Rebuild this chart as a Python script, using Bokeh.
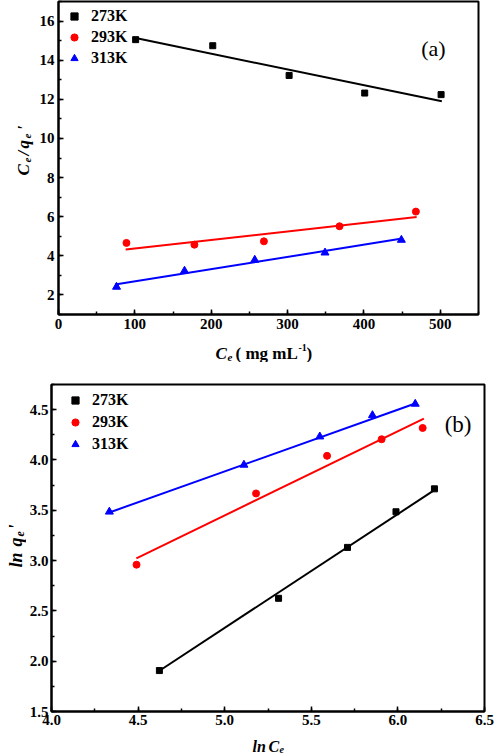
import numpy as np
from bokeh.plotting import figure
from bokeh.models import (Range1d, SingleIntervalTicker, PrintfTickFormatter,
                          Legend, LegendItem, Label)
from bokeh.layouts import column, row
from bokeh.embed import file_html
from bokeh.resources import INLINE

FONT = "Liberation Serif"

# ---------------- data: panel (a)  Ce/qe' vs Ce ----------------
series_labels = ["273K", "293K", "313K"]
series_colors = ["#000000", "#ff0000", "#0000ff"]
series_markers = ["square", "circle", "triangle"]

a_x_273 = [101, 202, 302, 401, 501]
a_y_273 = [15.05, 14.74, 13.22, 12.32, 12.24]
a_fitx_273 = [101, 502]
a_fity_273 = [15.13, 11.90]

a_x_293 = [89, 178, 269, 368, 468]
a_y_293 = [4.66, 4.57, 4.74, 5.51, 6.26]
a_fitx_293 = [88, 469]
a_fity_293 = [4.32, 5.98]

a_x_313 = [76, 165, 257, 349, 449]
a_y_313 = [2.41, 3.23, 3.79, 4.16, 4.81]
a_fitx_313 = [74, 450]
a_fity_313 = [2.53, 4.88]

# ---------------- data: panel (b)  ln qe' vs ln Ce ----------------
b_x_273 = [4.623, 5.311, 5.709, 5.989, 6.211]
b_y_273 = [1.907, 2.625, 3.131, 3.485, 3.713]
b_fitx_273 = [4.61, 6.21]
b_fity_273 = [1.89, 3.70]

b_x_293 = [4.491, 5.181, 5.591, 5.906, 6.143]
b_y_293 = [2.959, 3.667, 4.041, 4.206, 4.318]
b_fitx_293 = [4.49, 6.15]
b_fity_293 = [3.022, 4.411]

b_x_313 = [4.334, 5.111, 5.549, 5.853, 6.100]
b_y_313 = [3.485, 3.951, 4.232, 4.444, 4.557]
b_fitx_313 = [4.334, 6.104]
b_fity_313 = [3.478, 4.563]

marker_sizes = [6, 7, 8]


def style(p, xint, yint, fmt=None, standoff=4):
    p.outline_line_color = "black"
    p.outline_line_width = 2
    p.xgrid.visible = False
    p.ygrid.visible = False
    p.background_fill_color = "white"
    p.border_fill_color = "white"
    p.xaxis[0].ticker = SingleIntervalTicker(interval=xint, num_minor_ticks=2)
    p.yaxis[0].ticker = SingleIntervalTicker(interval=yint, num_minor_ticks=2)
    for ax in (p.xaxis[0], p.yaxis[0]):
        ax.axis_line_width = 2
        ax.axis_line_color = "black"
        ax.major_tick_in = 5
        ax.major_tick_out = 0
        ax.minor_tick_in = 3
        ax.minor_tick_out = 0
        ax.major_tick_line_width = 1.5
        ax.minor_tick_line_width = 1.5
        ax.major_tick_line_color = "black"
        ax.minor_tick_line_color = "black"
        ax.major_label_text_font = FONT
        ax.major_label_text_font_style = "bold"
        ax.major_label_text_font_size = "15px"
        ax.major_label_text_color = "black"
        ax.major_label_standoff = standoff
        if fmt:
            ax.formatter = PrintfTickFormatter(format=fmt)


def label_fig(w, h):
    f = figure(width=w, height=h, output_backend="svg", toolbar_location=None,
               x_range=Range1d(0, w), y_range=Range1d(0, h),
               x_axis_type=None, y_axis_type=None,
               min_border=0, min_border_left=0, min_border_right=0,
               min_border_top=0, min_border_bottom=0)
    f.outline_line_color = None
    f.background_fill_color = "white"
    f.border_fill_color = "white"
    return f


def add_runs(p, runs, x0, y0, angle=0.0):
    for text, size, fstyle, along, perp in runs:
        if angle == 0:
            x, y = x0 + along, y0 + perp
        else:
            x, y = x0 - perp, y0 + along
        p.add_layout(Label(x=x, y=y, x_units="screen", y_units="screen",
                           text=text, angle=angle, text_font=FONT,
                           text_font_size=f"{size}px", text_font_style=fstyle,
                           text_baseline="alphabetic", text_align="left",
                           text_color="black"))


def add_series(p, xs, ys, fxs, fys, leg_cfg):
    items = []
    for i in range(3):
        p.line(fxs[i], fys[i], line_color=series_colors[i], line_width=2)
        r = p.scatter(xs[i], ys[i], marker=series_markers[i], size=marker_sizes[i],
                      fill_color=series_colors[i], line_color=series_colors[i])
        items.append(LegendItem(label=series_labels[i], renderers=[r]))
    pad, gw, ls, sp = leg_cfg
    leg = Legend(items=items, location="top_left", margin=0, padding=pad, spacing=sp,
                 glyph_width=gw, glyph_height=18, label_height=18, label_standoff=ls,
                 label_text_font=FONT, label_text_font_style="bold",
                 label_text_font_size="16px", label_text_color="black",
                 background_fill_alpha=0, border_line_alpha=0)
    p.add_layout(leg)


# ---------------- panel (a) ----------------
p1 = figure(width=458, height=336, output_backend="svg", toolbar_location=None,
            x_range=Range1d(0, 550), y_range=Range1d(1, 17),
            min_border_left=21, min_border_right=16, min_border_top=1,
            min_border_bottom=22)
style(p1, 100, 2)
add_series(p1, [a_x_273, a_x_293, a_x_313], [a_y_273, a_y_293, a_y_313],
           [a_fitx_273, a_fitx_293, a_fitx_313], [a_fity_273, a_fity_293, a_fity_313],
           (6, 20, 7, 3))
p1.add_layout(Label(x=475, y=14.6, text="(a)", text_font=FONT, text_font_size="22px",
                    text_baseline="middle", text_align="left", text_color="black"))

ya = label_fig(36, 336)
add_runs(ya, [("C", 17, "bold italic", 0, 0),
              ("e", 11, "bold italic", 13, -4),
              ("/", 17, "bold italic", 20, 0),
              ("q", 17, "bold italic", 27, 0),
              ("e", 11, "bold italic", 37, -4),
              ("'", 17, "bold italic", 45, 0)], 23, 139, angle=np.pi / 2)

xa = label_fig(494, 26)
add_runs(xa, [("C", 17, "bold italic", 0, 0),
              ("e", 11, "bold italic", 12, -4),
              ("( mg mL", 17, "bold", 20, 0),
              ("-1", 10, "bold", 83, 6),
              (")", 17, "bold", 91, 0)], 215, 9)

# ---------------- panel (b) ----------------
p2 = figure(width=468, height=369, output_backend="svg", toolbar_location=None,
            x_range=Range1d(4.0, 6.5), y_range=Range1d(1.5, 4.75),
            min_border_left=22, min_border_right=10, min_border_top=22,
            min_border_bottom=20)
style(p2, 0.5, 0.5, fmt="%.1f", standoff=3)
add_series(p2, [b_x_273, b_x_293, b_x_313], [b_y_273, b_y_293, b_y_313],
           [b_fitx_273, b_fitx_293, b_fitx_313], [b_fity_273, b_fity_293, b_fity_313],
           (7, 34, 0, 4))
p2.add_layout(Label(x=6.27, y=4.35, text="(b)", text_font=FONT, text_font_size="23px",
                    text_baseline="middle", text_align="left", text_color="black"))

yb = label_fig(26, 369)
add_runs(yb, [("ln", 18, "bold italic", 0, 0),
              ("q", 18, "bold italic", 21, 0),
              ("e", 12, "bold italic", 31, -4),
              ("'", 18, "bold italic", 38, 0)], 15, 144, angle=np.pi / 2)

xb = label_fig(494, 23)
add_runs(xb, [("ln", 16, "bold italic", 0, 0),
              ("C", 16, "bold italic", 16, 0),
              ("e", 10, "bold italic", 27, -3)], 252, 8)

layout = column(row(ya, p1, spacing=0), xa, row(yb, p2, spacing=0), xb, spacing=0)
open("out.html", "w").write(file_html(layout, INLINE))
